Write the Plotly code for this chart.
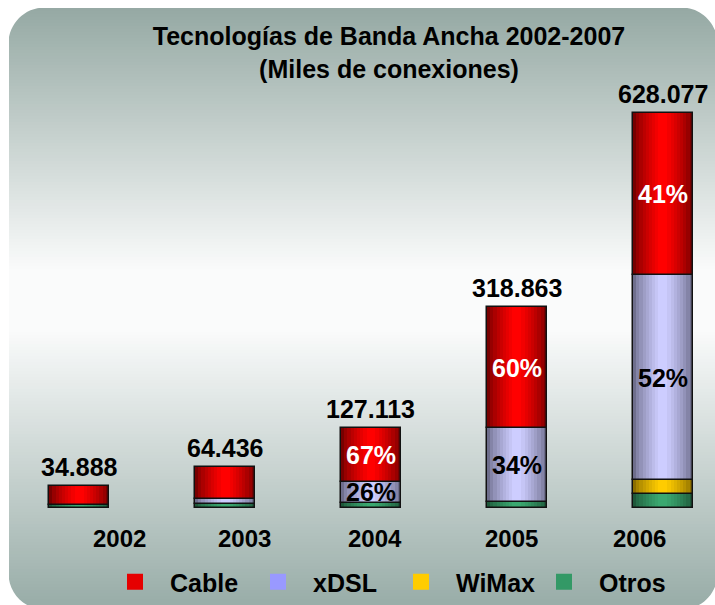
import plotly.graph_objects as go

# ---------------- data ----------------
years = ["2002", "2003", "2004", "2005", "2006"]
total_labels = ["34.888", "64.436", "127.113", "318.863", "628.077"]
totals = [34888, 64436, 127113, 318863, 628077]

series_names = ["Otros", "WiMax", "xDSL", "Cable"]          # bottom -> top
otros = [4400, 5900, 7400, 10000, 23000]
wimax = [0, 0, 0, 0, 21000]
xdsl = [0, 9000, 34500, 117500, 326600]
cable = [30500, 49500, 85200, 191300, 257500]

xdsl_pct = [None, None, "26%", "34%", "52%"]
cable_pct = [None, None, "67%", "60%", "41%"]

# ---------------- style ----------------
W, H = 715, 605
ML, MR, MT, MB = 9, 1, 80, 97
PW, PH = W - ML - MR, H - MT - MB
BOTTOM_PX = H - MB
XR = [-0.48, 4.35]
YR = [0, 680000]
BAR_W = 0.41
FONT = "Liberation Sans, Arial, sans-serif"

edge_col = {"Otros": (30, 88, 58), "WiMax": (140, 110, 0), "xDSL": (110, 110, 140), "Cable": (120, 0, 0)}
center_col = {"Otros": (58, 168, 112), "WiMax": (255, 204, 0), "xDSL": (205, 205, 255), "Cable": (255, 0, 0)}
legend_col = {"Cable": "#E60000", "xDSL": "#9999FF", "WiMax": "#FFCC00", "Otros": "#339966"}
year_offsets = [0.28, 0.134, 0.03, -0.036, -0.158]

values = {"Otros": otros, "WiMax": wimax, "xDSL": xdsl, "Cable": cable}
xs = list(range(len(years)))


def px2paper(px, py):
    return (px - ML) / PW, (BOTTOM_PX - py) / PH


def mix(a, b, t):
    return "rgb(%d,%d,%d)" % tuple(round(a[i] + (b[i] - a[i]) * t) for i in range(3))


fig = go.Figure()

# ---- stacked bars with cylinder-like shading ----
base = [0] * len(years)
bases = {}
for name in series_names:
    bases[name] = list(base)
    base = [b + v for b, v in zip(base, values[name])]

NL = 9
for name in series_names:
    vals = [v if v > 0 else None for v in values[name]]
    for k in range(NL):
        t = k / (NL - 1)
        fig.add_trace(go.Bar(
            x=xs, y=vals, base=bases[name], width=BAR_W * (1 - 0.85 * t),
            marker=dict(color=mix(edge_col[name], center_col[name], t ** 0.7), line=dict(width=0)),
            showlegend=False, hoverinfo="skip"))
    fig.add_trace(go.Bar(
        x=xs, y=vals, base=bases[name], width=BAR_W,
        marker=dict(color="rgba(0,0,0,0)", line=dict(color="#111111", width=1.5)),
        showlegend=False, hoverinfo="skip"))

# ---- legend entries ----
for name in ["Cable", "xDSL", "WiMax", "Otros"]:
    fig.add_trace(go.Scatter(x=[None], y=[None], mode="markers", name=name,
                             marker=dict(symbol="square", size=16, color=legend_col[name])))

annotations = []
# totals
for i, lab in enumerate(total_labels):
    annotations.append(dict(x=xs[i], y=totals[i], text=lab, showarrow=False, yanchor="bottom", yshift=3,
                            font=dict(family=FONT, size=25, color="black", weight="bold")))
# percentages
for name, pcts, col in [("xDSL", xdsl_pct, "black"), ("Cable", cable_pct, "white")]:
    for i, p in enumerate(pcts):
        if p is None:
            continue
        annotations.append(dict(x=xs[i], y=bases[name][i] + values[name][i] / 2, text=p, showarrow=False,
                                yanchor="middle",
                                font=dict(family=FONT, size=25, color=col, weight="bold")))
# year labels
for i, yl in enumerate(years):
    annotations.append(dict(x=xs[i] + year_offsets[i], y=(BOTTOM_PX - 538) / PH, yref="paper", text=yl,
                            showarrow=False, yanchor="middle",
                            font=dict(family=FONT, size=24, color="black", weight="bold")))

# ---- background: rounded rectangle with vertical gradient ----
shapes = []
X0, Y0, X1, Y1, R = 9, 8, 717, 609, 36
top_c, white_c, bot_c = (149, 169, 164), (250, 251, 251), (154, 174, 169)
step = 3
y = Y0
while y < Y1:
    yc = y + step / 2
    if yc < 270:
        c = mix(top_c, white_c, (yc - Y0) / (270 - Y0))
    elif yc < 330:
        c = mix(white_c, white_c, 0)
    else:
        c = mix(white_c, bot_c, min(1, (yc - 330) / (600 - 330)))
    ax0, ay0 = px2paper(X0, y)
    ax1, ay1 = px2paper(X1, min(Y1, y + step + 0.6))
    shapes.append(dict(type="rect", xref="paper", yref="paper", x0=ax0, x1=ax1, y0=ay1, y1=ay0,
                       fillcolor=c, line=dict(width=0), layer="below"))
    y += step

k = 0.45
def corner(cx, cy, dx, dy):
    # cx,cy corner pixel; dx,dy direction into rectangle
    pts = [(cx, cy), (cx + dx * R, cy), (cx + dx * R * k, cy), (cx, cy + dy * R * k), (cx, cy + dy * R)]
    p = [px2paper(a, b) for a, b in pts]
    path = "M%f,%f L%f,%f C%f,%f %f,%f %f,%f Z" % (p[0] + p[1] + p[2] + p[3] + p[4])
    return dict(type="path", xref="paper", yref="paper", path=path, fillcolor="white",
                line=dict(width=0), layer="below")

shapes += [corner(X0 - 0.5, Y0 - 0.5, 1, 1), corner(X1 + 0.5, Y0 - 0.5, -1, 1),
           corner(X0 - 0.5, Y1 + 0.5, 1, -1), corner(X1 + 0.5, Y1 + 0.5, -1, -1)]

fig.update_layout(
    width=W, height=H, autosize=False,
    margin=dict(l=ML, r=MR, t=MT, b=MB, pad=0, autoexpand=False),
    paper_bgcolor="white", plot_bgcolor="rgba(0,0,0,0)",
    barmode="overlay", bargap=0,
    xaxis=dict(range=XR, visible=False, fixedrange=True),
    yaxis=dict(range=YR, visible=False, fixedrange=True),
    title=dict(text="Tecnologías de Banda Ancha 2002-2007<br>(Miles de conexiones)",
               x=389 / W, xanchor="center", xref="container",
               y=1 - 45 / H, yanchor="top", yref="container",
               font=dict(family=FONT, size=25, color="black", weight="bold")),
    showlegend=True,
    legend=dict(orientation="h", xref="container", x=100 / W, xanchor="left",
                yref="container", y=(H - 582) / H,
                yanchor="middle", bgcolor="rgba(0,0,0,0)", itemwidth=60,
                entrywidth=68, entrywidthmode="pixels", traceorder="normal",
                font=dict(family=FONT, size=25, color="black", weight="bold")),
    annotations=annotations,
    shapes=shapes,
)

fig.write_html("out.html", config={"displayModeBar": False},
               post_script="document.body.style.margin='0';")
